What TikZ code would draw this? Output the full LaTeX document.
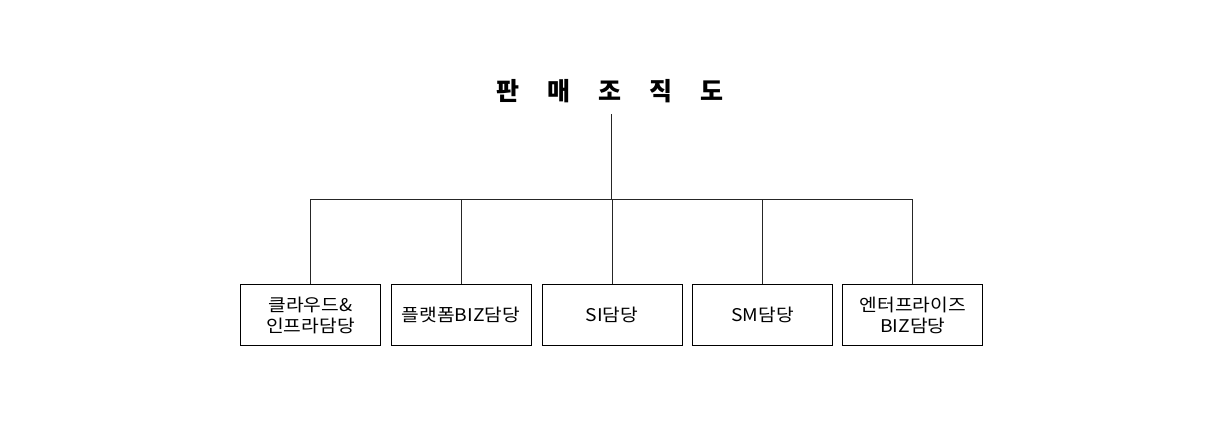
\documentclass[tikz,border=0pt]{standalone}
\usepackage{fontspec}
\setmainfont{Noto Sans CJK KR}
\newfontfamily\boxfont[FakeStretch=1.1]{Noto Sans CJK KR}
\begin{document}
\begin{tikzpicture}[x=1pt,y=-1pt,
  conn/.style={draw=black!85, line width=0.9pt},
  unitbox/.style={draw=black, line width=0.9pt, minimum width=140pt, minimum height=61pt,
    inner sep=0pt, align=center, font=\boxfont\fontsize{17.5pt}{21pt}\selectfont},
  titletext/.style={font=\fontsize{25pt}{30pt}\selectfont\bfseries, inner xsep=0pt, inner ysep=11pt,
    text height=20pt, text depth=3pt}]
\useasboundingbox (0,0) rectangle (1205,437);
\node[titletext, anchor=base] (t) at (610,100) {{\spaceskip=28pt 판 매 조 직 도}};
\coordinate (j) at (611.5,199);
\node[unitbox] (b1) at (310.5,315) {클라우드\&\\인프라담당};
\node[unitbox] (b2) at (461,315) {플랫폼BIZ담당};
\node[unitbox] (b3) at (612,315) {SI담당};
\node[unitbox] (b4) at (762.5,315) {SM담당};
\node[unitbox] (b5) at (912.8,315) {엔터프라이즈\\BIZ담당};
\draw[conn] (t.south -| j) -- (j);
\foreach \b in {b1,b2,b3,b4,b5}{\draw[conn] (j) -| (\b.north);}
\end{tikzpicture}
\end{document}
